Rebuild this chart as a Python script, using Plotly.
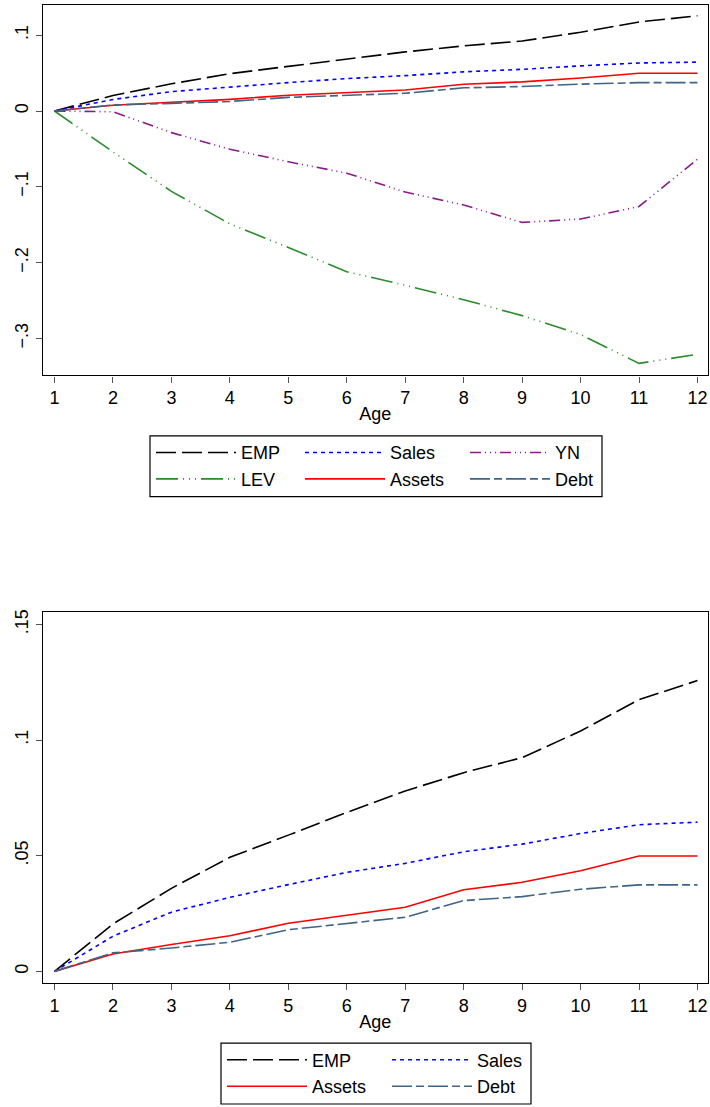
import plotly.graph_objects as go

age = list(range(1, 13))

emp = [0, 0.0205, 0.0359, 0.0493, 0.0589, 0.0687, 0.078, 0.0859, 0.0924, 0.1039, 0.1175, 0.1257]
sales = [0, 0.0152, 0.0256, 0.032, 0.0375, 0.0428, 0.0467, 0.0517, 0.055, 0.0596, 0.0634, 0.0645]
yn = [0, -0.001, -0.0285, -0.0504, -0.067, -0.082, -0.107, -0.124, -0.147, -0.1425, -0.126, -0.0636]
lev = [0, -0.054, -0.106, -0.149, -0.18, -0.212, -0.23, -0.249, -0.27, -0.295, -0.333, -0.321]
assets = [0, 0.0075, 0.0116, 0.0154, 0.0208, 0.0244, 0.0277, 0.0353, 0.0385, 0.0435, 0.0499, 0.0499]
debt = [0, 0.008, 0.0101, 0.0126, 0.018, 0.0208, 0.0234, 0.0306, 0.0323, 0.0355, 0.0374, 0.0374]

x_ticks = list(range(1, 13))
y1_tickvals = [-0.3, -0.2, -0.1, 0, 0.1]
y1_ticktext = ["\u2212.3", "\u2212.2", "\u2212.1", "0", ".1"]
y2_tickvals = [0, 0.05, 0.1, 0.15]
y2_ticktext = ["0", ".05", ".1", ".15"]

FONT = "Liberation Sans, Arial, sans-serif"
W, H = 710, 1107

styles = {
    "EMP": dict(color="#000000", dash="20px,6px"),
    "Sales": dict(color="#0000ff", dash="4px,4px"),
    "YN": dict(color="#8b1a8b", dash="11px,4px,1px,4px,1px,4px,1px,4px"),
    "LEV": dict(color="#2a8c2a", dash="22px,5px,1px,5px,1px,5px,1px,5px"),
    "Assets": dict(color="#ff0000", dash="solid"),
    "Debt": dict(color="#3e6487", dash="20px,4px,8px,4px"),
}

fig = go.Figure()

def add(name, y, xa, ya, legend, group):
    st = styles[name]
    fig.add_trace(go.Scatter(
        x=age, y=y, mode="lines", name=name,
        line=dict(color=st["color"], dash=st["dash"], width=1.6),
        xaxis=xa, yaxis=ya, legend=legend, legendgroup=group,
        showlegend=True,
    ))

# top panel: columns (EMP, LEV), (Sales, Assets), (YN, Debt)
add("EMP", emp, "x", "y", "legend", "t1")
add("LEV", lev, "x", "y", "legend", "t2")
add("Sales", sales, "x", "y", "legend2", "t3")
add("Assets", assets, "x", "y", "legend2", "t4")
add("YN", yn, "x", "y", "legend3", "t5")
add("Debt", debt, "x", "y", "legend3", "t6")
# bottom panel: columns (EMP, Assets), (Sales, Debt)
add("EMP", emp, "x2", "y2", "legend4", "b1")
add("Assets", assets, "x2", "y2", "legend4", "b2")
add("Sales", sales, "x2", "y2", "legend5", "b3")
add("Debt", debt, "x2", "y2", "legend5", "b4")

def py(p):
    return 1 - p / H

xdom = [42.7 / W, 708 / W]
axis_common = dict(
    showline=True, linecolor="#000000", linewidth=1.2, mirror=True,
    ticks="outside", ticklen=6, tickwidth=1, tickcolor="#555555",
    showgrid=False, zeroline=False,
    tickfont=dict(family=FONT, size=18, color="#000000"),
)

xr = [0.798, 12.18]
fig.update_layout(
    width=W, height=H,
    margin=dict(l=0, r=0, t=0, b=0),
    paper_bgcolor="white", plot_bgcolor="white",
    font=dict(family=FONT, size=18, color="#000000"),
    xaxis=dict(domain=xdom, range=xr, tickvals=x_ticks, anchor="y",
               title=dict(text="Age", standoff=0, font=dict(size=18)), **axis_common),
    yaxis=dict(domain=[py(373.5), py(2)], range=[-0.349, 0.1399], anchor="x",
               tickvals=y1_tickvals, ticktext=y1_ticktext, tickangle=-90, **axis_common),
    xaxis2=dict(domain=xdom, range=xr, tickvals=x_ticks, anchor="y2",
                title=dict(text="Age", standoff=0, font=dict(size=18)), **axis_common),
    yaxis2=dict(domain=[py(983), py(611)], range=[-0.00517, 0.1552], anchor="x2",
                tickvals=y2_tickvals, ticktext=y2_ticktext, tickangle=-90, **axis_common),
)

leg_common = dict(orientation="v", itemwidth=80, bgcolor="rgba(0,0,0,0)",
                  borderwidth=0, font=dict(family=FONT, size=18, color="#000000"),
                  xanchor="left", yanchor="middle", tracegroupgap=0,
                  itemclick=False, itemdoubleclick=False)
top_c = py(464)
bot_c = py(1073)
off = 7
fig.update_layout(
    legend=dict(x=(158 - off) / W, y=top_c, **leg_common),
    legend2=dict(x=(307 - off) / W, y=top_c, **leg_common),
    legend3=dict(x=(472 - off) / W, y=top_c, **leg_common),
    legend4=dict(x=(229 - off) / W, y=bot_c, **leg_common),
    legend5=dict(x=(394 - off) / W, y=bot_c, **leg_common),
)

# legend frames
for (x0, x1, y0, y1) in [(150, 602, 434, 495), (221, 531, 1043, 1104)]:
    fig.add_shape(type="rect", xref="paper", yref="paper",
                  x0=x0 / W, x1=x1 / W, y0=py(y1), y1=py(y0),
                  line=dict(color="#000000", width=1.2), fillcolor="rgba(0,0,0,0)")

fig.write_html("out.html", config={"displayModeBar": False},
               post_script="document.body.style.margin='0';document.body.style.overflow='hidden';")
